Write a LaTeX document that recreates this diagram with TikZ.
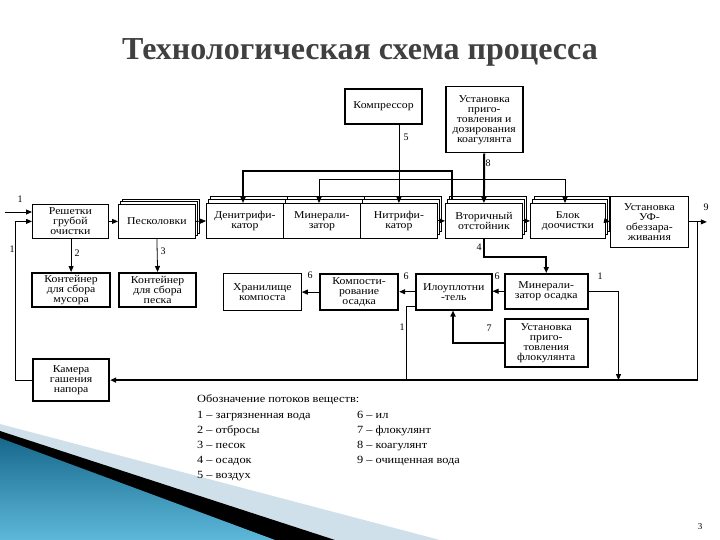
\documentclass[tikz,border=0pt]{standalone}
\usepackage{fontspec}
\setmainfont{Liberation Serif}
\newfontfamily\boxfont[FakeStretch=1.12]{Liberation Serif}
\usetikzlibrary{arrows.meta,calc}
\definecolor{titlegray}{HTML}{404040}
\definecolor{lightband}{HTML}{CFE0EA}
\definecolor{tealdark}{HTML}{17698C}
\definecolor{teallight}{HTML}{5DB8DA}
\begin{document}
\begin{tikzpicture}[x=1pt,y=-1pt,
  box/.style={draw,line width=0.8pt,fill=white,align=center,font=\boxfont\fontsize{10.5}{10}\selectfont,inner sep=1pt,anchor=north west},
  tbox/.style={box,line width=2.2pt},
  mbox/.style={box,line width=1.5pt},
  layer/.style={draw,line width=0.8pt,fill=white},
  arr/.style={-{Triangle[length=6pt,width=5pt]},line width=0.8pt},
  tarr/.style={-{Triangle[length=6pt,width=5pt]},line width=2pt},
  dbl/.style={{Triangle[length=6pt,width=5pt]}-{Triangle[length=6pt,width=5pt]},line width=0.8pt},
  lbl/.style={font=\fontsize{10}{10}\selectfont,inner sep=0pt},
  leg/.style={font=\boxfont\fontsize{11}{11}\selectfont,inner sep=0pt,anchor=base west},
]
\useasboundingbox (0,0) rectangle (720,540);
% background decoration
\fill[lightband] (0,424) -- (440,540) -- (0,540) -- cycle;
\fill[black] (0,431) -- (335,540) -- (0,540) -- cycle;
\shade[top color=tealdark,bottom color=teallight] (0,438) -- (275,540) -- (0,540) -- cycle;
% title
\node[font=\fontsize{32}{32}\selectfont\bfseries,text=titlegray] (title) at (360,52) {Технологическая схема процесса};
% stacked layers
\foreach \x/\y/\w/\h in {206/203/77/35,283/203/77/35,360/203/77/35,445/203/77/35,530/203/75/35}{
  \draw[layer] (\x+4,\y-7) rectangle ++(\w,\h);
}
\foreach \x/\y/\w/\h in {206/203/77/35,283/203/77/35,360/203/77/35,445/203/77/35,530/203/75/35}{
  \draw[layer] (\x+2,\y-4) rectangle ++(\w,\h);
}
\draw[layer] (122,199) rectangle ++(77,34);
\draw[layer] (120,201.5) rectangle ++(77,34);
% boxes
\node[tbox,minimum width=77,minimum height=35] (komp) at (344,88) {Компрессор};
\node[mbox,minimum width=77,minimum height=66] (koag) at (445,86) {Установка\\приго-\\товления и\\дозирования\\коагулянта};
\node[box,minimum width=76,minimum height=34] (resh) at (32,204) {Решетки\\грубой\\очистки};
\node[box,minimum width=77,minimum height=34] (pesk) at (118,204) {Песколовки};
\node[box,minimum width=77,minimum height=35] (denit) at (206,203) {Денитрифи-\\катор};
\node[box,minimum width=77,minimum height=35] (miner) at (283,203) {Минерали-\\затор};
\node[box,minimum width=77,minimum height=35] (nitr) at (360,203) {Нитрифи-\\катор};
\node[box,minimum width=77,minimum height=35] (vtor) at (445,203) {Вторичный\\отстойник};
\node[box,minimum width=75,minimum height=35] (blok) at (530,203) {Блок\\доочистки};
\node[box,minimum width=78,minimum height=51] (uf) at (610,196) {Установка\\УФ-\\обеззара-\\живания};
\node[tbox,minimum width=78,minimum height=34] (kmus) at (31,272) {Контейнер\\для сбора\\мусора};
\node[tbox,minimum width=77,minimum height=34] (kpes) at (118,272) {Контейнер\\для сбора\\песка};
\node[box,minimum width=78,minimum height=37] (hran) at (223,273) {Хранилище\\компоста};
\node[tbox,minimum width=78,minimum height=36] (komps) at (319,273) {Компости-\\рование\\осадка};
\node[mbox,minimum width=76,minimum height=36] (ilo) at (415,273) {Илоуплотни\\-тель};
\node[mbox,minimum width=83,minimum height=35] (minos) at (504,273) {Минерали-\\затор осадка};
\node[mbox,minimum width=83,minimum height=48] (flok) at (504,318) {Установка\\приго-\\товления\\флокулянта};
\node[tbox,minimum width=76,minimum height=42] (kam) at (32,358) {Камера\\гашения\\напора};
% main line
\coordinate (in1) at (5,212);
\draw[arr] (in1) -- (in1 -| resh.west);
\draw[arr] (kam.west) -- ++(-17,0) |- (resh.west);
\draw[arr] (resh.east) -- (pesk.west);
\draw[arr] (pesk.east) -- (denit.west);
\draw[arr] (nitr.east) -- (vtor.west);
\draw[arr] (vtor.east) -- (blok.west);
\draw[arr] (blok.east) -- (uf.east -| uf.west);
\draw[arr] (uf.east) -- ++(18,0);
\coordinate (r9) at ($(uf.east)+(9,0)$);
\coordinate (bot) at (r9 |- kam.east);
\draw[line width=0.8pt] (r9) -- (bot);
\draw[tarr] (bot) -- (kam.east);
% wastes
\draw[arr] (resh.south -| kmus.north) -- (kmus.north);
\draw[arr] (pesk.south) -- (kpes.north);
% top feeds
\draw[arr] (komp.south -| nitr.north) -- (nitr.north);
\draw[tarr] (koag.south) -- (vtor.north);
\draw[tarr] ($(vtor.north west)+(7,-4)$) -- ++(0,-28) -| ($(denit.north west)+(37,0)$);
\coordinate (t1) at ($(blok.north west)+(35,-24)$);
\draw[dbl] ($(blok.north west)+(35,0)$) -- (t1) -| ($(miner.north west)+(36,0)$);
% sludge line
\draw[tarr] (vtor.south) -- ++(0,18) -| (minos.north);
\draw[arr] (minos.west) -- (minos.west -| ilo.east);
\draw[arr] (ilo.west) -- (ilo.west -| komps.east);
\draw[arr] (komps.west) -- (komps.west -| hran.east);
\coordinate (f1) at ($(flok.west)+(-51,0)$);
\draw[tarr] (flok.west) -- (f1) -- (f1 |- ilo.south);
\coordinate (m1) at ($(minos.east)+(30,0)$);
\draw[arr] (minos.east) -- (m1) -- (m1 |- bot);
\coordinate (i1) at ($(ilo.south west)+(-9,-4)$);
\draw[line width=0.8pt] ($(ilo.south west)+(0,-4)$) -- (i1) -- (i1 |- bot);
% labels
\node[lbl] (l5) at (406,137) {5};
\node[lbl] (l8) at (488,163) {8};
\node[lbl] (l1a) at (20,199) {1};
\node[lbl] (l1b) at (12,249) {1};
\node[lbl] (l2) at (77,253) {2};
\node[lbl] (l3) at (163,251) {3};
\node[lbl] (l4) at (479,247) {4};
\node[lbl] (l6a) at (310,275) {6};
\node[lbl] (l6b) at (406,276) {6};
\node[lbl] (l6c) at (497,276) {6};
\node[lbl] (l7) at (489,328) {7};
\node[lbl] (l1c) at (600,276) {1};
\node[lbl] (l1d) at (402,327) {1};
\node[lbl] (l9) at (706,207) {9};
% legend
\node[leg] (lg0) at (197,402) {Обозначение потоков веществ:};
\node[leg] (lg1) at (197,418) {1 – загрязненная вода};
\node[leg] (lg2) at (197,433) {2 – отбросы};
\node[leg] (lg3) at (197,448) {3 – песок};
\node[leg] (lg4) at (197,463) {4 – осадок};
\node[leg] (lg5) at (197,478) {5 – воздух};
\node[leg] (lg6) at (357,418) {6 – ил};
\node[leg] (lg7) at (357,433) {7 – флокулянт};
\node[leg] (lg8) at (357,448) {8 – коагулянт};
\node[leg] (lg9) at (357,463) {9 – очищенная вода};
\node[lbl,font=\fontsize{9}{9}\selectfont] (pg) at (700,527) {3};
\end{tikzpicture}
\end{document}
